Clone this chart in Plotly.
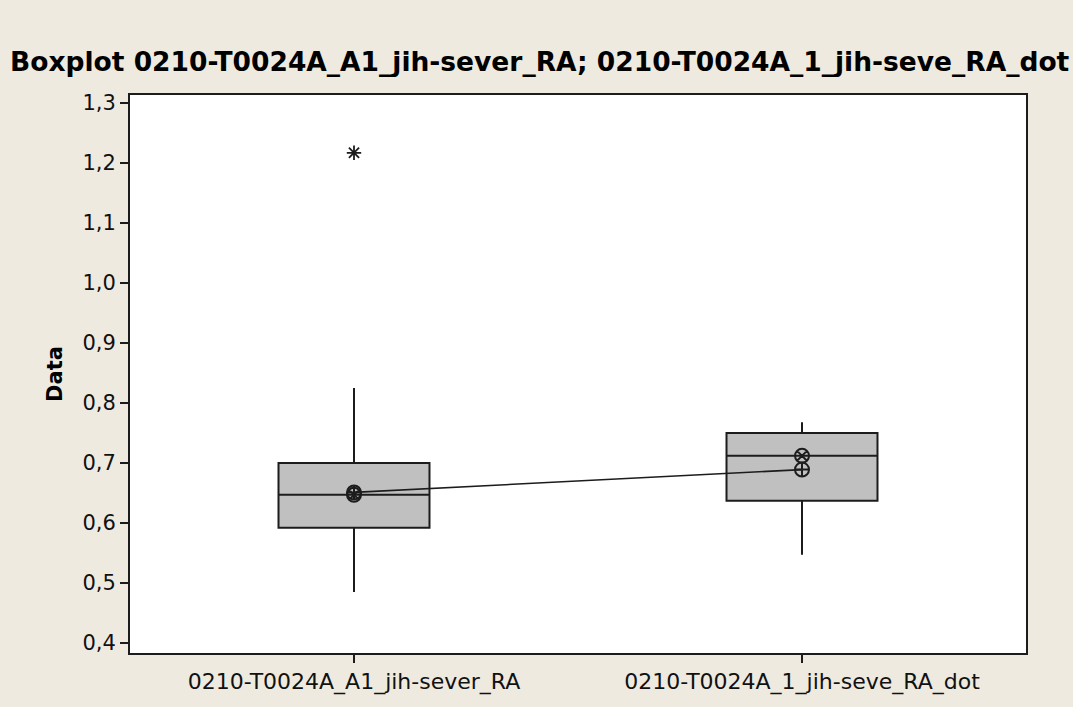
import plotly.graph_objects as go

# Column names and per-column box statistics
categories = ["0210-T0024A_A1_jih-sever_RA", "0210-T0024A_1_jih-seve_RA_dot"]
q1 = [0.592, 0.637]
medians = [0.647, 0.712]
q3 = [0.700, 0.750]
lower_whisker = [0.485, 0.547]
upper_whisker = [0.825, 0.768]
means = [0.651, 0.689]

# Outliers (column, value)
outlier_cats = ["0210-T0024A_A1_jih-sever_RA"]
outlier_vals = [1.217]

y_ticks = [0.4, 0.5, 0.6, 0.7, 0.8, 0.9, 1.0, 1.1, 1.2, 1.3]

BG = "#EEEAE0"
INK = "#1c1c1c"
FONT = "DejaVu Sans"

fig = go.Figure()

for i, cat in enumerate(categories):
    fig.add_trace(go.Box(
        x=[cat],
        q1=[q1[i]], median=[medians[i]], q3=[q3[i]],
        lowerfence=[lower_whisker[i]], upperfence=[upper_whisker[i]],
        width=0.337,
        whiskerwidth=0,
        fillcolor="#C0C0C0",
        line=dict(color=INK, width=2),
        boxpoints=False,
        hoverinfo="skip",
        showlegend=False,
    ))

# Line connecting the means
fig.add_trace(go.Scatter(
    x=categories, y=means, mode="lines",
    line=dict(color=INK, width=1.6),
    showlegend=False, hoverinfo="skip",
))

# Median symbols
fig.add_trace(go.Scatter(
    x=categories, y=medians, mode="markers",
    marker=dict(symbol="circle-x-open", size=14, color=INK, line=dict(width=2, color=INK)),
    showlegend=False, hoverinfo="skip",
))

# Mean symbols
fig.add_trace(go.Scatter(
    x=categories, y=means, mode="markers",
    marker=dict(symbol="circle-cross-open", size=14, color=INK, line=dict(width=2, color=INK)),
    showlegend=False, hoverinfo="skip",
))

# Outliers
fig.add_trace(go.Scatter(
    x=outlier_cats, y=outlier_vals, mode="markers",
    marker=dict(symbol="asterisk-open", size=12, color=INK, line=dict(width=1.8, color=INK)),
    showlegend=False, hoverinfo="skip",
))

fig.update_layout(
    width=1082, height=707,
    margin=dict(l=130, r=56, t=95, b=54),
    paper_bgcolor=BG,
    plot_bgcolor="white",
    separators=",.",
    font=dict(family=FONT, size=22, color="#111"),
    title=dict(
        text="<b>Boxplot 0210-T0024A_A1_jih-sever_RA; 0210-T0024A_1_jih-seve_RA_dot</b>",
        x=10 / 1082, xref="container", xanchor="left",
        y=1 - 62 / 707, yref="container", yanchor="middle",
        font=dict(family=FONT, size=26.5, color="#000"),
    ),
    xaxis=dict(
        type="category",
        categoryorder="array", categoryarray=categories,
        range=[-0.5, 1.5],
        showline=True, linewidth=2, linecolor=INK, mirror=True,
        ticks="outside", ticklen=8, tickwidth=1.5, tickcolor=INK,
        showgrid=False, zeroline=False,
        tickfont=dict(size=22),
    ),
    yaxis=dict(
        range=[0.38333, 1.31333],
        tickvals=y_ticks, tickformat=".1f",
        showline=True, linewidth=2, linecolor=INK, mirror=True,
        ticks="outside", ticklen=8, tickwidth=1.5, tickcolor=INK,
        showgrid=False, zeroline=False,
        tickfont=dict(size=21),
        title=dict(text="<b>Data</b>", font=dict(size=21, color="#000"), standoff=14),
    ),
    shapes=[dict(
        type="rect", xref="paper", yref="paper",
        x0=(1073 - 130) / 896, x1=(1090 - 130) / 896,
        y0=-0.2, y1=1.3,
        fillcolor="white", line=dict(width=0), layer="below",
    )],
)

fig.write_html("out.html")
